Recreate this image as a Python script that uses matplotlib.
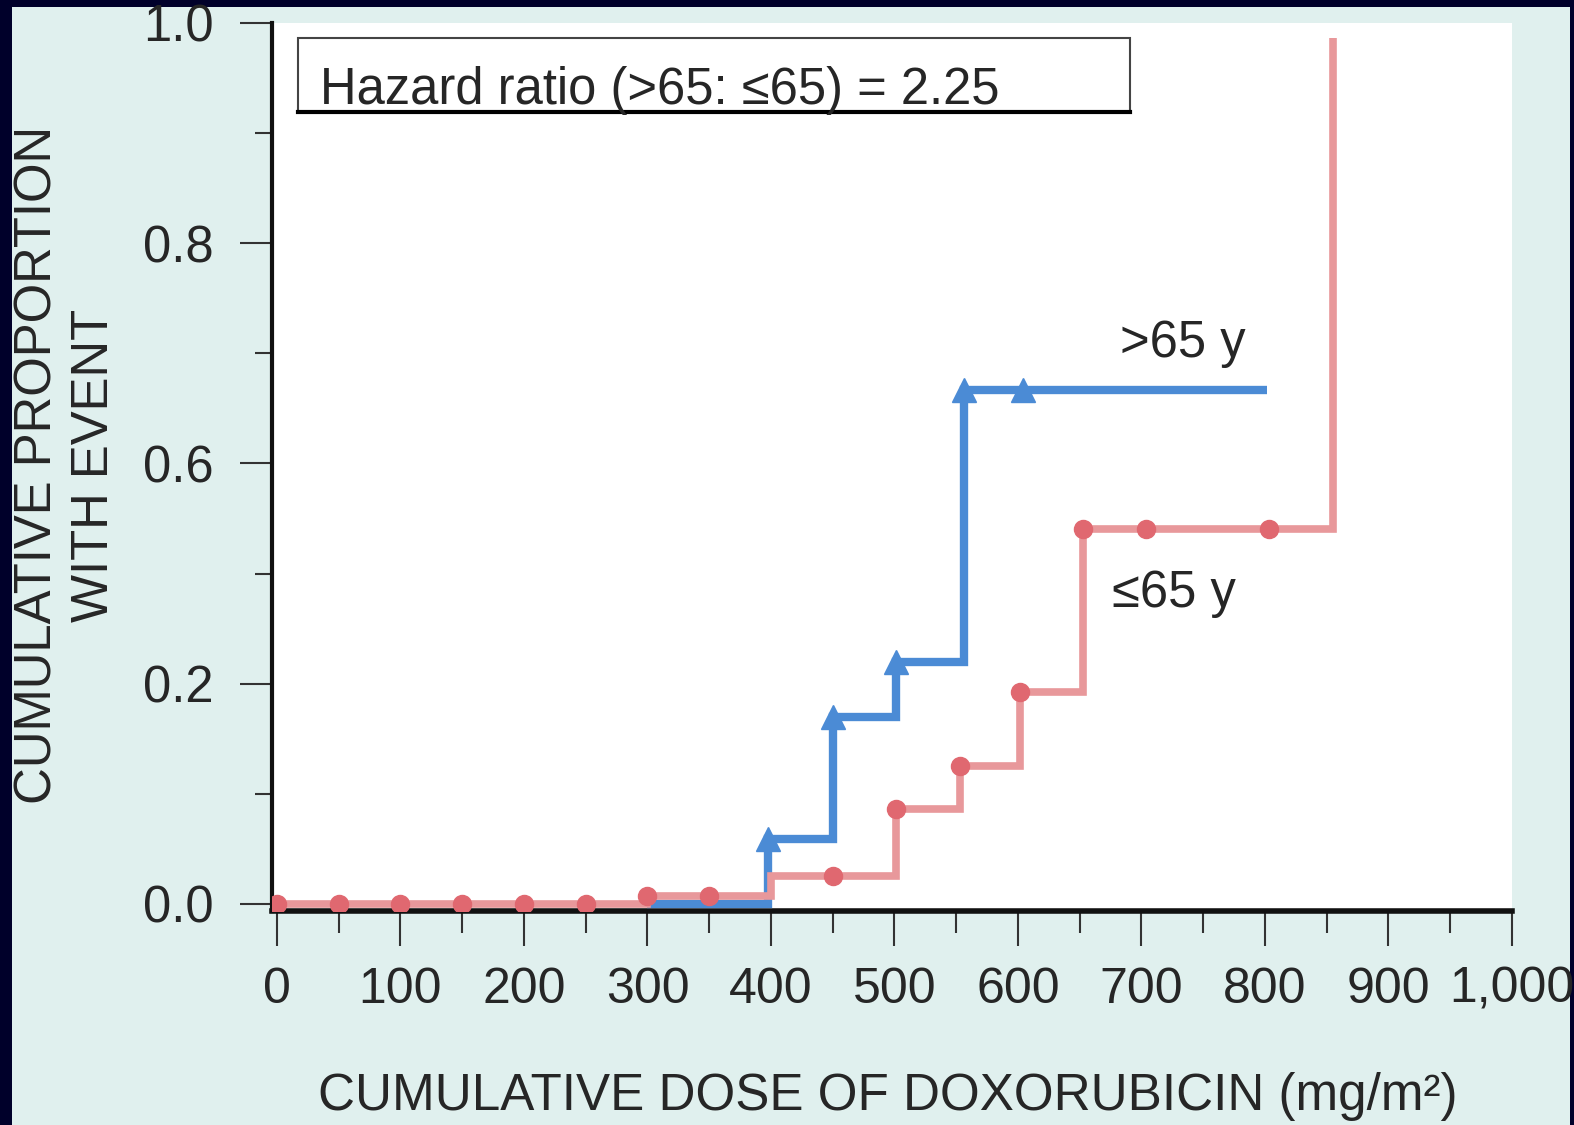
import numpy as np
import matplotlib
matplotlib.use('Agg')
import matplotlib.pyplot as plt
from matplotlib.patches import Rectangle
from matplotlib.lines import Line2D
from matplotlib.ticker import FixedLocator, FixedFormatter

# ==========================================
# Datos
# ==========================================
# >65 y : dosis donde empieza cada escalon y proporcion acumulada
dosis_mayor = [300, 398, 450, 501, 556, 802]
prop_mayor = [0.0, 0.059, 0.17, 0.24, 0.667, 0.667]
marca_mayor_x = [398, 450, 501, 556, 604]
marca_mayor_y = [0.059, 0.17, 0.24, 0.667, 0.667]

# <=65 y
dosis_menor = [0, 300, 400, 501, 553, 602, 653, 855]
prop_menor = [0.0, 0.007, 0.025, 0.086, 0.125, 0.192, 0.48, 0.986]
marca_menor_x = [0, 50, 100, 150, 200, 250, 300, 350, 450, 501, 553, 602, 653, 704, 803]
marca_menor_y = [0, 0, 0, 0, 0, 0, 0.007, 0.007, 0.025, 0.086, 0.125, 0.192, 0.48, 0.48, 0.48]

# el eje Y original tiene marcas equiespaciadas sin 0.4
ytick_vals = [0.0, 0.2, 0.6, 0.8, 1.0]
ytick_labels = ['0.0', '0.2', '0.6', '0.8', '1.0']
ytick_minor = [0.1, 0.4, 0.7, 0.9]
xtick_vals = [0, 100, 200, 300, 400, 500, 600, 700, 800, 900, 1000]
xtick_labels = ['0', '100', '200', '300', '400', '500', '600', '700', '800', '900', '1,000']
xtick_minor = [50, 150, 250, 350, 450, 550, 650, 750, 850, 950]

# escala por tramos: valor -> posicion
nudos_val = [-1.0, 0.0, 0.2, 0.6, 0.8, 1.0, 2.0]
nudos_pos = [-1.25, 0.0, 0.25, 0.5, 0.75, 1.0, 2.25]

def adelante(v):
    return np.interp(v, nudos_val, nudos_pos)

def atras(p):
    return np.interp(p, nudos_pos, nudos_val)

# ==========================================
# Estilo
# ==========================================
plt.rcParams['font.family'] = ['Liberation Sans', 'DejaVu Sans']
azul = '#4b8bd5'
rojo_linea = '#e8989b'
rojo_marca = '#e06870'
texto = '#262626'

W, H = 1574, 1125
fig = plt.figure(figsize=(W / 100, H / 100), dpi=100, facecolor='#00002a')
fig.add_artist(Rectangle((12 / W, 0), (1570 - 12) / W, (H - 7) / H,
                         transform=fig.transFigure, facecolor='#e0f0ee',
                         edgecolor='none', zorder=-10))

ax = fig.add_axes([272 / W, (H - 911) / H, 1240 / W, 888 / H])
ax.set_facecolor('white')
ax.set_yscale('function', functions=(adelante, atras))

# curvas escalonadas
ax.plot(dosis_mayor, prop_mayor, drawstyle='steps-post', color=azul, lw=6,
        solid_joinstyle='miter', solid_capstyle='butt', zorder=3)
ax.plot(marca_mayor_x, marca_mayor_y, '^', color=azul, ms=17, zorder=4)
ax.plot(dosis_menor, prop_menor, drawstyle='steps-post', color=rojo_linea, lw=5.5,
        solid_joinstyle='miter', solid_capstyle='butt', zorder=5)
ax.plot(marca_menor_x, marca_menor_y, 'o', color=rojo_marca, ms=13, zorder=6)

ax.set_xlim(-4, 1000)
ax.set_ylim(-0.0065, 1.0)

ax.xaxis.set_major_locator(FixedLocator(xtick_vals))
ax.xaxis.set_major_formatter(FixedFormatter(xtick_labels))
ax.xaxis.set_minor_locator(FixedLocator(xtick_minor))
ax.yaxis.set_major_locator(FixedLocator(ytick_vals))
ax.yaxis.set_major_formatter(FixedFormatter(ytick_labels))
ax.yaxis.set_minor_locator(FixedLocator(ytick_minor))
ax.yaxis.set_minor_formatter(FixedFormatter([''] * len(ytick_minor)))

for lado in ['top', 'right']:
    ax.spines[lado].set_visible(False)
ax.spines['left'].set_linewidth(3)
ax.spines['bottom'].set_linewidth(4)
ax.spines['left'].set_color('#111111')
ax.spines['bottom'].set_color('#111111')

ax.tick_params(axis='y', which='major', direction='out', length=23, width=1.5,
               color='#333333', pad=19, labelsize=36.5, labelcolor=texto)
ax.tick_params(axis='y', which='minor', direction='out', length=12, width=1.5,
               color='#333333')
ax.tick_params(axis='x', which='major', direction='out', length=25, width=1.5,
               color='#333333', pad=15, labelsize=36, labelcolor=texto)
ax.tick_params(axis='x', which='minor', direction='out', length=16, width=1.5,
               color='#333333')

# recuadro del hazard ratio
x0, x1 = (298 - 272) / 1240, (1130 - 272) / 1240
y0, y1 = (911 - 112) / 888, (911 - 38) / 888
ax.add_patch(Rectangle((x0, y0), x1 - x0, y1 - y0, transform=ax.transAxes,
                       facecolor='white', edgecolor='#444444', lw=1.5, zorder=7))
ax.add_line(Line2D([x0, x1], [y0, y0], transform=ax.transAxes, color='black',
                   lw=3, zorder=8))
ax.text((320 - 272) / 1240, (911 - 104) / 888, 'Hazard ratio (>65: \u226465) = 2.25',
        transform=ax.transAxes, fontsize=36.5, color=texto, va='baseline', ha='left',
        zorder=9)

# etiquetas de las curvas
ax.text((1120 - 272) / 1240, (911 - 357) / 888, '>65 y', transform=ax.transAxes,
        fontsize=36.5, color=texto, va='baseline', ha='left')
ax.text((1112 - 272) / 1240, (911 - 607) / 888, '\u226465 y', transform=ax.transAxes,
        fontsize=36.5, color=texto, va='baseline', ha='left')

# titulos de ejes
fig.text(888 / W, (H - 1110) / H, 'CUMULATIVE DOSE OF DOXORUBICIN (mg/m\u00b2)',
         fontsize=36.8, color=texto, ha='center', va='baseline')
fig.text(66 / W, (H - 465) / H, 'CUMULATIVE PROPORTION\nWITH EVENT',
         fontsize=36.6, color=texto, ha='center', va='center', rotation=90,
         multialignment='center', linespacing=1.2)

fig.savefig('out.png', dpi=100, facecolor=fig.get_facecolor())
